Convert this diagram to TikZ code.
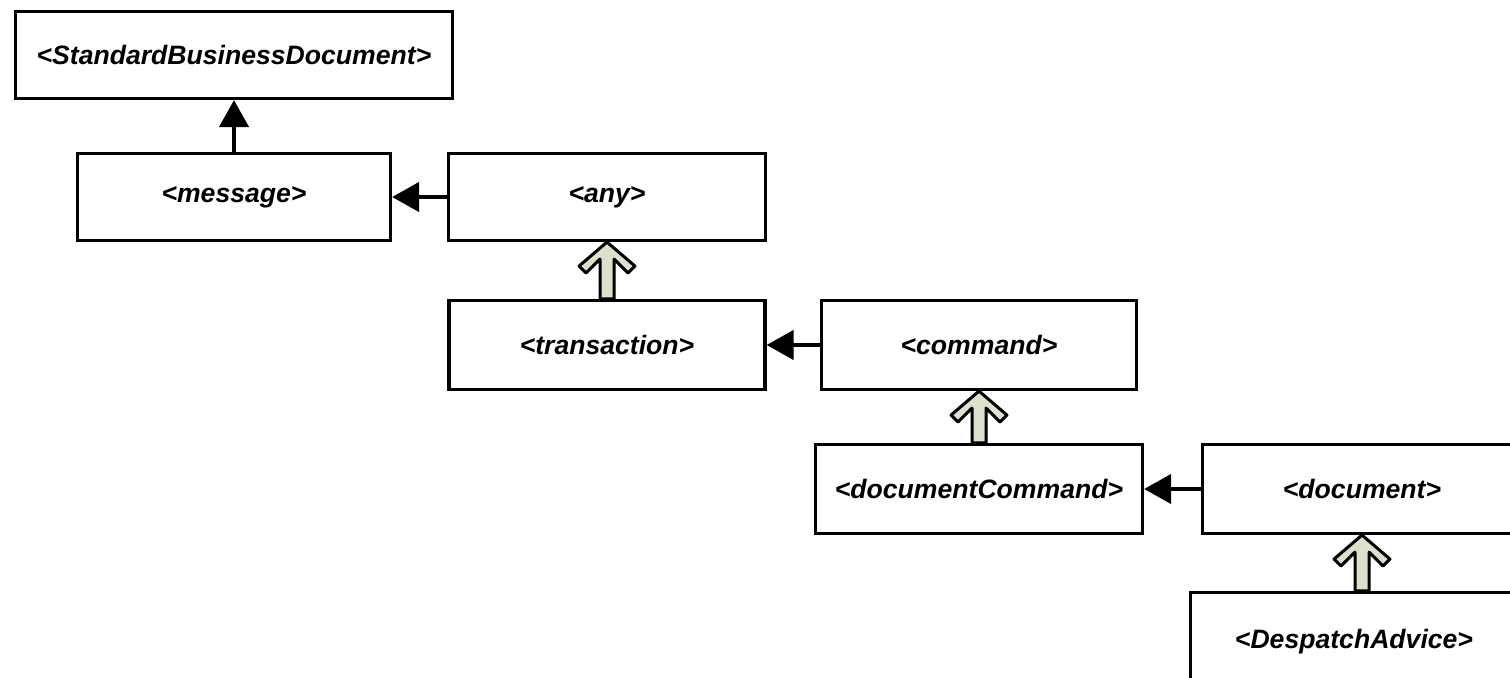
\documentclass[tikz,border=0pt]{standalone}
\usepackage{fontspec}
\setsansfont{Liberation Sans}
\usetikzlibrary{arrows.meta,calc}
\definecolor{arrowfill}{RGB}{221,224,203}

% hollow block arrow from #1 (bottom node) up to #2 (top node)
\newcommand{\fatarrow}[2]{%
  \coordinate (tip) at (#2.south);
  \coordinate (base) at (#2.south |- #1.north);
  \filldraw[fat arrow] (tip) -- ++(28,24) -- ++(-7,7) -- ++(-14,-14)
    -- ($(base)+(7,0)$) -- ($(base)+(-7,0)$) -- ($(tip)+(-7,17)$)
    -- ++(-14,14) -- ++(-7,-7) -- cycle;
}

\begin{document}
\begin{tikzpicture}[x=0.5pt,y=-0.5pt,>={Triangle[length=13.5pt,width=14.5pt]},node distance=186pt,
    box/.style={draw, line width=1.6pt, inner sep=0pt, minimum height=43.5pt, font=\sffamily\bfseries\itshape\fontsize{13.3}{16}\selectfont},
    fat arrow/.style={fill=arrowfill, draw=black, line width=1.5pt, line join=round}]

            \path[use as bounding box, clip] (0,0) rectangle (1510,678);

            \node[box, minimum width=218.5pt] (sbd) at (234,55) {<StandardBusinessDocument>};
            \node[box, minimum width=156.5pt] (message) [below of = sbd, node distance=71pt] {<message>};
            \node[box, minimum width=158.5pt] (any) [right of = message, node distance=186.5pt] {<any>};
            \node[box, minimum width=158pt, minimum height=44.5pt] (transaction) [below of = any, node distance=74pt] {<transaction>};
            \node[box, minimum width=157.5pt, minimum height=44.5pt] (command) [right of = transaction] {<command>};
            \node[box, minimum width=163.5pt, minimum height=44.5pt] (doccommand) [below of = command, node distance=72pt] {<documentCommand>};
            \node[box, minimum width=159.5pt, minimum height=44.5pt] (document) [right of = doccommand, node distance=191.5pt] {<document>};
            \node[box, minimum width=163.5pt, minimum height=49.5pt] (despatch) [below of = document, node distance=76.5pt, xshift=-4pt] {<DespatchAdvice>};

            \draw[->, line width=2.2pt] (message) to (sbd);
            \draw[->, line width=2.2pt] (any) to (message);
            \draw[->, line width=2.2pt] (command) to (transaction);
            \draw[->, line width=2.2pt] (document) to (doccommand);

            \fatarrow{transaction}{any}
            \fatarrow{doccommand}{command}
            \fatarrow{despatch}{document}

\end{tikzpicture}
\end{document}
